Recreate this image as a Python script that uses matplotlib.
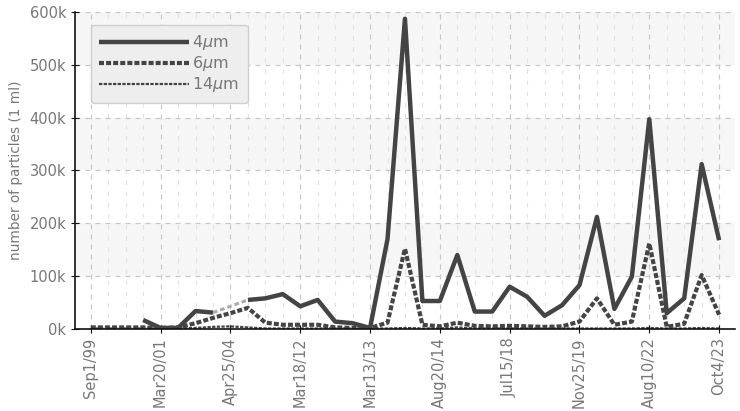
import numpy as np
import matplotlib
matplotlib.use("Agg")
import matplotlib.pyplot as plt
from matplotlib.ticker import FuncFormatter, MultipleLocator

plt.rcParams["font.family"] = ["Liberation Sans Narrow", "DejaVu Sans"]

# ── data ─────────────────────────────────────────────
nan = np.nan
x = np.arange(37)
tick_pos = list(range(0, 37, 4))
tick_labels = ["Sep1/99", "Mar20/01", "Apr25/04", "Mar18/12", "Mar13/13",
               "Aug20/14", "Jul15/18", "Nov25/19", "Aug10/22", "Oct4/23"]

um4 = [nan, nan, nan, 17, 2, 2, 34, 31, nan, 55,
       58, 66, 43, 55, 14, 11, 2, 170, 587, 53,
       53, 140, 33, 33, 80, 61, 25, 45, 83, 212,
       38, 99, 397, 30, 58, 312, 168]
um6 = [3, 3, 3, 3, 2, 3, 11, 21, 30, 40,
       12, 8, 8, 8, 3, 2, 2, 12, 152, 8,
       5, 12, 6, 5, 6, 5, 4, 5, 14, 58,
       8, 14, 162, 4, 10, 102, 27]
um14 = [1, 1, 1, 1, 1, 1, 2, 4, 5, 3,
        1, 1, 1, 1, 1, 1, 1, 1, 2, 1,
        1, 3, 1, 1, 1, 1, 1, 1, 1, 1,
        1, 1, 2, 1, 1, 2, 1]

LINE = "#444444"
TXT = "#777777"

y4 = np.array(um4) * 1000
y6 = np.array(um6) * 1000
y14 = np.array(um14) * 1000

fig = plt.figure(figsize=(7.4, 4.11), dpi=100)
ax = fig.add_axes([0.101, 0.1995, 0.892, 0.7715])
ax.set_xlim(-0.92, 36.9)
ax.set_ylim(0, 600000)

# alternating bands
for lo in (100000, 300000, 500000):
    ax.axhspan(lo, lo + 100000, color="#f6f6f6", zorder=0, lw=0)

# grid
ax.set_xticks(tick_pos)
ax.set_xticks(x, minor=True)
ax.yaxis.set_major_locator(MultipleLocator(100000))
ax.grid(True, which="major", color="#c8c8c8", ls=(0, (4, 4)), lw=0.9, zorder=1)
ax.grid(True, which="minor", axis="x", color="#e2e2e2", ls=(0, (4, 6)), lw=0.8, zorder=1)

# series
ax.plot(x, y4, color=LINE, lw=3.2, solid_capstyle="butt", zorder=4, label="4$\\mu$m")
ax.plot([x[7], x[9]], [y4[7], y4[9]], color="#aaaaaa", lw=2.2,
        ls=(0, (1.5, 1)), zorder=3)
ax.plot(x, y6, color=LINE, lw=3.0, ls=(0, (1.2, 0.5)), zorder=3, label="6$\\mu$m")
ax.plot(x, y14, color=LINE, lw=1.6, ls=(0, (1.5, 0.6)), zorder=3, label="14$\\mu$m")

# axes styling
for s in ("top", "right"):
    ax.spines[s].set_visible(False)
for s in ("left", "bottom"):
    ax.spines[s].set_color("#111111")
    ax.spines[s].set_linewidth(1.2)
    ax.spines[s].set_zorder(5)

ax.yaxis.set_major_formatter(FuncFormatter(lambda v, p: f"{int(v / 1000)}k"))
ax.set_xticklabels(tick_labels, rotation=90)
ax.tick_params(axis="both", which="major", direction="inout", length=6,
               color="#111111", labelcolor=TXT, labelsize=10.5, pad=3)
ax.tick_params(axis="x", which="minor", length=0)
ax.set_ylabel("number of particles (1 ml)", color=TXT, fontsize=9.8, labelpad=5)

leg = ax.legend(loc="upper left", bbox_to_anchor=(0.012, 0.985), handlelength=5.6,
                handletextpad=0.2, labelspacing=0.12, fontsize=11.5,
                fancybox=True, framealpha=1, borderpad=0.55)
leg.get_frame().set_facecolor("#eeeeee")
leg.get_frame().set_edgecolor("#cfcfcf")
for t in leg.get_texts():
    t.set_color(TXT)
leg.set_zorder(6)

fig.savefig("out.png", dpi=100)
